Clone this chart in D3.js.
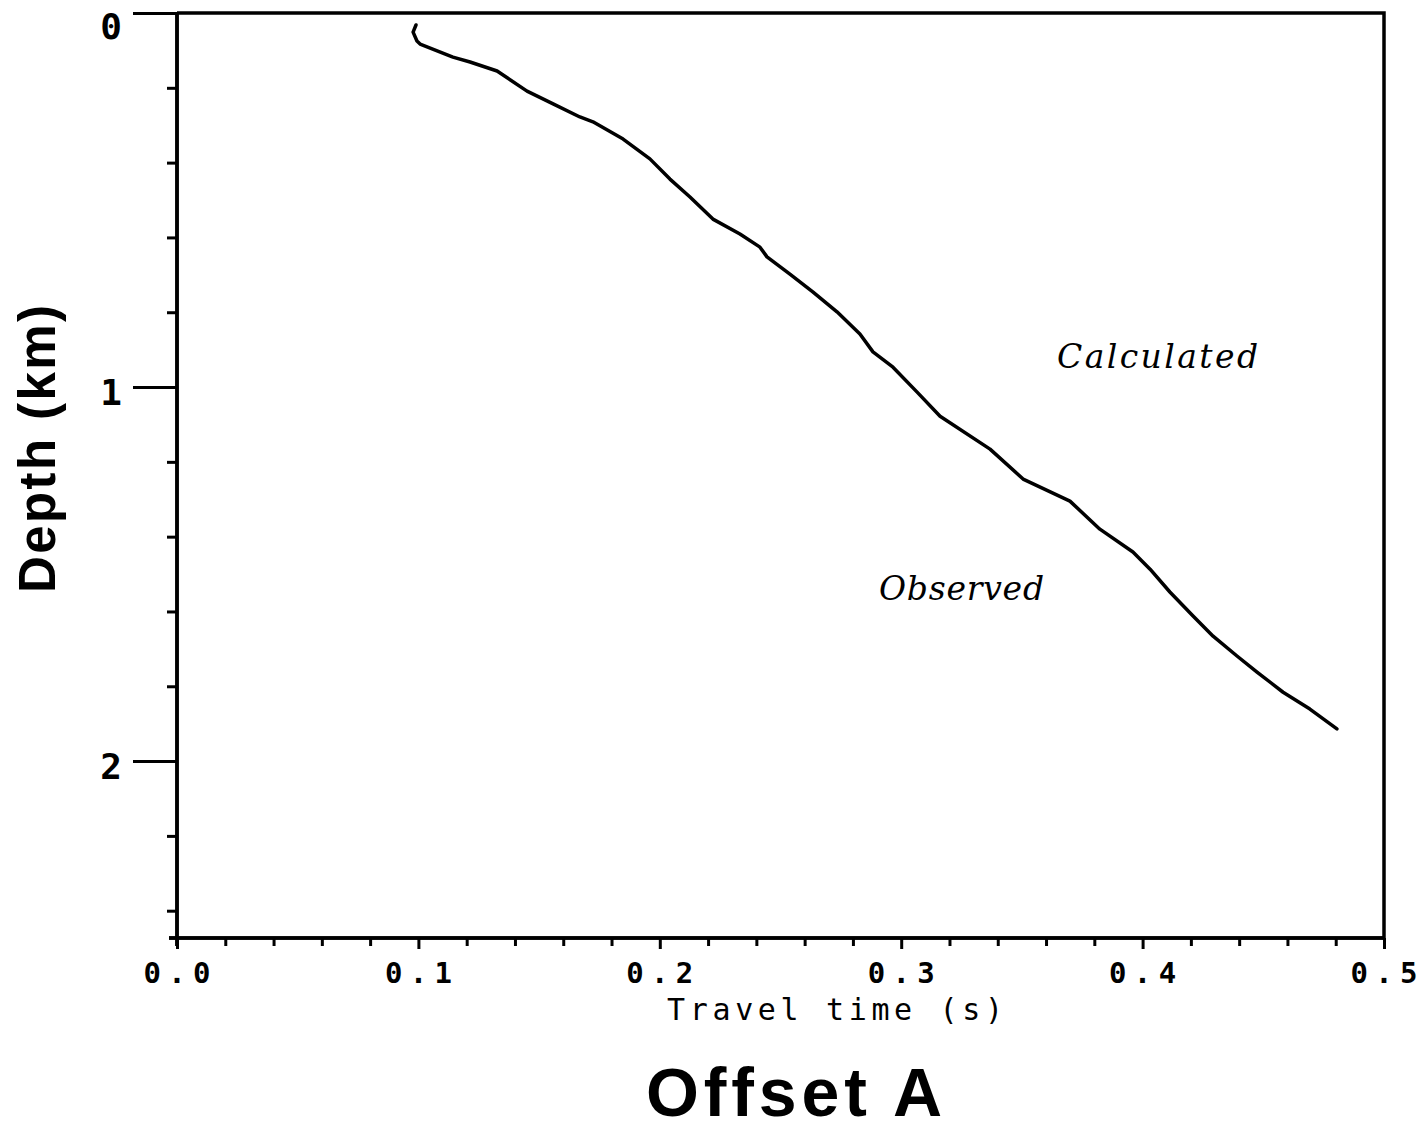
<!DOCTYPE html>
<html>
<head>
<meta charset="utf-8">
<script src="https://cdn.jsdelivr.net/npm/d3@7"></script>
<style>
  html, body { margin: 0; padding: 0; background: #fff; }
  svg { display: block; }
</style>
</head>
<body>
<svg id="chart" width="1425" height="1129"></svg>
<script>
// Observed first-arrival travel time (s) against receiver depth (km)
const travelTime = [0.0990, 0.0978, 0.0994, 0.1007, 0.1143, 0.1214, 0.1326, 0.1450, 0.1558,
  0.1669, 0.1723, 0.1848, 0.1959, 0.2042, 0.2125, 0.2220, 0.2332, 0.2415, 0.2444, 0.2539,
  0.2635, 0.2734, 0.2829, 0.2883, 0.2966, 0.3065, 0.3161, 0.3368, 0.3505, 0.3699, 0.3823,
  0.3960, 0.4031, 0.4113, 0.4209, 0.4292, 0.4391, 0.4474, 0.4582, 0.4693, 0.4805];
const depth = [0.032, 0.051, 0.075, 0.083, 0.118, 0.131, 0.155, 0.209, 0.243,
  0.278, 0.291, 0.337, 0.390, 0.444, 0.492, 0.551, 0.591, 0.626, 0.652, 0.698,
  0.746, 0.799, 0.858, 0.906, 0.947, 1.013, 1.078, 1.166, 1.246, 1.305, 1.380,
  1.441, 1.487, 1.548, 1.612, 1.666, 1.719, 1.762, 1.816, 1.861, 1.914];

const xMajorTicks = [0.0, 0.1, 0.2, 0.3, 0.4, 0.5];
const xTickLabels = ["0.0", "0.1", "0.2", "0.3", "0.4", "0.5"];
const xMinorTicks = [0.02, 0.04, 0.06, 0.08, 0.12, 0.14, 0.16, 0.18, 0.22, 0.24, 0.26, 0.28,
  0.32, 0.34, 0.36, 0.38, 0.42, 0.44, 0.46, 0.48];
const yMajorTicks = [0, 1, 2];
const yTickLabels = ["0", "1", "2"];
const yMinorTicks = [0.2, 0.4, 0.6, 0.8, 1.2, 1.4, 1.6, 1.8, 2.2, 2.4];

const labelCalculated = "Calculated";
const labelObserved = "Observed";
const xTitle = "Travel time (s)";
const yTitle = "Depth (km)";
const chartTitle = "Offset A";

const svg = d3.select("#chart");
const plotLeft = 177, plotRight = 1384, plotTop = 13, plotBottom = 938;

const x = d3.scaleLinear().domain([0, 0.5]).range([plotLeft, plotRight]);
const y = d3.scaleLinear().domain([0, 2.473]).range([plotTop, plotBottom]);

const ink = "#000";

// Frame: top and right borders
svg.append("path")
  .attr("d", `M${plotLeft},${plotTop}H${plotRight}V${plotBottom}`)
  .attr("fill", "none").attr("stroke", ink).attr("stroke-width", 3.5);

// Bottom axis
const gx = svg.append("g").attr("transform", `translate(0,${plotBottom})`);
gx.call(d3.axisBottom(x).tickValues(xMinorTicks).tickSize(8).tickFormat(""));
gx.append("g").call(d3.axisBottom(x).tickValues(xMajorTicks).tickSize(11).tickFormat(""));
gx.selectAll(".domain").attr("stroke", ink).attr("stroke-width", 3.5)
  .attr("d", `M${plotLeft - 8},0H${plotRight}`);
gx.selectAll(".tick line").attr("stroke", ink).attr("stroke-width", 3);

gx.selectAll(".xlab").data(xMajorTicks).enter().append("text")
  .attr("class", "xlab")
  .attr("x", d => x(d)).attr("y", 45)
  .attr("text-anchor", "middle")
  .attr("font-family", "DejaVu Sans Mono")
  .attr("font-weight", "bold")
  .attr("font-size", 29)
  .attr("textLength", 67).attr("lengthAdjust", "spacing")
  .attr("fill", ink)
  .text((d, i) => xTickLabels[i]);

// Left axis
const gy = svg.append("g").attr("transform", `translate(${plotLeft},0)`);
gy.call(d3.axisLeft(y).tickValues(yMinorTicks).tickSize(10).tickFormat(""));
gy.append("g").call(d3.axisLeft(y).tickValues(yMajorTicks).tickSize(44).tickFormat(""));
gy.selectAll(".domain").attr("stroke", ink).attr("stroke-width", 3.5)
  .attr("d", `M0,${plotTop}V${plotBottom + 8}`);
gy.selectAll(".tick line").attr("stroke", ink).attr("stroke-width", 3);

gy.selectAll(".ylab").data(yMajorTicks).enter().append("text")
  .attr("class", "ylab")
  .attr("x", -55).attr("y", d => y(d) + (d === 0 ? 26 : 18))
  .attr("text-anchor", "end")
  .attr("font-family", "DejaVu Sans Mono")
  .attr("font-weight", "bold")
  .attr("font-size", 36)
  .attr("fill", ink)
  .text((d, i) => yTickLabels[i]);

// Axis titles
svg.append("text")
  .attr("x", 835).attr("y", 1020)
  .attr("text-anchor", "middle")
  .attr("font-family", "DejaVu Sans Mono")
  .attr("font-size", 30)
  .attr("textLength", 336).attr("lengthAdjust", "spacing")
  .attr("fill", ink)
  .text(xTitle);

svg.append("text")
  .attr("transform", "translate(55,449) rotate(-90)")
  .attr("text-anchor", "middle")
  .attr("font-family", "Liberation Sans, Arial, sans-serif")
  .attr("font-weight", "bold")
  .attr("font-size", 51)
  .attr("textLength", 288).attr("lengthAdjust", "spacing")
  .attr("fill", ink)
  .text(yTitle);

svg.append("text")
  .attr("x", 794).attr("y", 1116)
  .attr("text-anchor", "middle")
  .attr("font-family", "Liberation Sans, Arial, sans-serif")
  .attr("font-weight", "bold")
  .attr("font-size", 68)
  .attr("textLength", 296).attr("lengthAdjust", "spacing")
  .attr("fill", ink)
  .text(chartTitle);

// Curve annotations
svg.append("text")
  .attr("x", 1057).attr("y", 368)
  .attr("font-family", "DejaVu Serif")
  .attr("font-style", "italic")
  .attr("font-size", 33)
  .attr("textLength", 201).attr("lengthAdjust", "spacing")
  .attr("fill", ink)
  .text(labelCalculated);

svg.append("text")
  .attr("x", 879).attr("y", 600)
  .attr("font-family", "DejaVu Serif")
  .attr("font-style", "italic")
  .attr("font-size", 33)
  .attr("textLength", 165).attr("lengthAdjust", "spacing")
  .attr("fill", ink)
  .text(labelObserved);

// Travel-time curve
const line = d3.line()
  .x((d, i) => x(travelTime[i]))
  .y((d, i) => y(depth[i]));

svg.append("path")
  .datum(depth)
  .attr("d", line)
  .attr("fill", "none")
  .attr("stroke", ink)
  .attr("stroke-width", 3.5)
  .attr("stroke-linejoin", "round")
  .attr("stroke-linecap", "round");
</script>
</body>
</html>
